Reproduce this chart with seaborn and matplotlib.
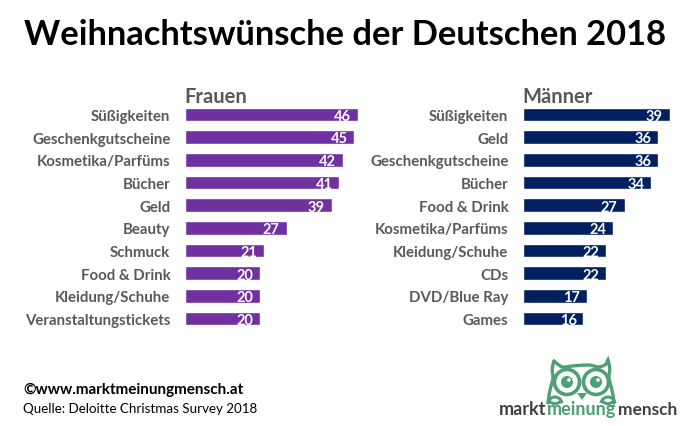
import matplotlib
matplotlib.use('Agg')
import matplotlib.pyplot as plt
import matplotlib.patches as mpatches
from matplotlib.path import Path
import pandas as pd
import seaborn as sns

# Data
frauen_labels = ['Süßigkeiten', 'Geschenkgutscheine', 'Kosmetika/Parfüms', 'Bücher', 'Geld',
                 'Beauty', 'Schmuck', 'Food & Drink', 'Kleidung/Schuhe', 'Veranstaltungstickets']
frauen_values = [46, 45, 42, 41, 39, 27, 21, 20, 20, 20]
maenner_labels = ['Süßigkeiten', 'Geld', 'Geschenkgutscheine', 'Bücher', 'Food & Drink',
                  'Kosmetika/Parfüms', 'Kleidung/Schuhe', 'CDs', 'DVD/Blue Ray', 'Games']
maenner_values = [39, 36, 36, 34, 27, 24, 22, 22, 17, 16]

W, H = 696, 427
sns.set_style('white')
plt.rcParams['font.family'] = ['Lato', 'DejaVu Sans']
fig = plt.figure(figsize=(W / 100, H / 100), dpi=100)
GREY = '#595959'
OWL = '#4F9F75'


def panel(x0, x1, labels, values, color, title):
    ax = fig.add_axes([x0 / W, 1 - 331 / H, (x1 - x0) / W, (331 - 104) / H])
    df = pd.DataFrame({'label': labels, 'value': values})
    sns.barplot(data=df, x='value', y='label', color=color, saturation=1, width=0.6, ax=ax)
    ax.set_xlim(0, (x1 - x0) / 3.76)
    ax.set_xlabel('')
    ax.set_ylabel('')
    ax.set_xticks([])
    ax.tick_params(axis='y', length=0, pad=10.5)
    for t in ax.get_yticklabels():
        t.set_fontsize(10.8)
        t.set_fontweight('bold')
        t.set_color(GREY)
    for c in ax.containers:
        for t in ax.bar_label(c, padding=-17, color='white', fontsize=10.5, fontweight='bold'):
            # nudge the numbers down so they sit inside the bar
            t.xyann = (t.xyann[0], -1)
    sns.despine(ax=ax, left=True, bottom=True, top=True, right=True)
    ax.patch.set_alpha(0)
    fig.text((x0 - 1) / W, 1 - 97 / H, title, fontsize=14.5, fontweight='bold', color=GREY, ha='left', va='center')


panel(185, 370, frauen_labels, frauen_values, '#7030A0', 'Frauen')
panel(523, 690, maenner_labels, maenner_values, '#002060', 'Männer')

fig.text(345 / W, 1 - 35 / H, 'Weihnachtswünsche der Deutschen 2018', fontsize=24.8, fontweight='bold',
         color='black', ha='center', va='center')
fig.text(23 / W, 1 - 390 / H, '©www.marktmeinungmensch.at', fontsize=11, fontweight='bold', color='black', va='center')
fig.text(23 / W, 1 - 409 / H, 'Quelle: Deloitte Christmas Survey 2018', fontsize=9.6, color='black', va='center')

# Logo text
fig.text(499 / W, 1 - 410 / H, 'markt', fontsize=13, fontweight='bold', color='#404040', va='center')
fig.text(547 / W, 1 - 410 / H, 'meinung', fontsize=13, fontweight='bold', color=OWL, va='center')
fig.text(618 / W, 1 - 410 / H, 'mensch', fontsize=12.5, fontweight='bold', color='#404040', va='center')

# Logo owl
la = fig.add_axes([0, 0, 1, 1], zorder=5)
la.set_xlim(0, W)
la.set_ylim(H, 0)
la.axis('off')
head = Path(
    [(554, 362), (558, 366), (562, 368), (566, 368), (575, 366), (590, 366), (598, 368),
     (603, 368), (606, 365), (608, 361), (611, 370), (609, 376), (609, 380),
     (612, 390), (613, 396), (614, 404)],
    [Path.MOVETO, Path.CURVE3, Path.CURVE3, Path.LINETO, Path.CURVE3, Path.CURVE3, Path.LINETO,
     Path.CURVE3, Path.CURVE3, Path.LINETO, Path.CURVE3, Path.CURVE3, Path.LINETO,
     Path.CURVE3, Path.CURVE3, Path.LINETO])
la.add_patch(mpatches.PathPatch(head, fc='none', ec=OWL, lw=2.4, capstyle='round'))
head_l = Path(
    [(554, 362), (551, 370), (553, 376), (553, 380), (550, 390), (549, 396), (548, 404)],
    [Path.MOVETO, Path.CURVE3, Path.CURVE3, Path.LINETO, Path.CURVE3, Path.CURVE3, Path.LINETO])
la.add_patch(mpatches.PathPatch(head_l, fc='none', ec=OWL, lw=2.4, capstyle='round'))
for cx in (567, 596):
    la.add_patch(mpatches.Circle((cx, 383), 12.5, fc='white', ec=OWL, lw=2.6))
    la.add_patch(mpatches.Circle((cx, 383), 6, fc=OWL, ec='none'))
    la.add_patch(mpatches.Circle((cx + 2, 381), 1.8, fc='white', ec='none'))
la.add_patch(mpatches.Polygon([(577, 394), (587, 394), (582, 401)], fc=OWL, ec='none'))
la.add_patch(mpatches.Wedge((555, 405), 7, 200, 340, fc='none', ec=OWL, lw=2.2))
la.add_patch(mpatches.Wedge((608, 405), 7, 200, 340, fc='none', ec=OWL, lw=2.2))

fig.savefig('out.png', dpi=100)
